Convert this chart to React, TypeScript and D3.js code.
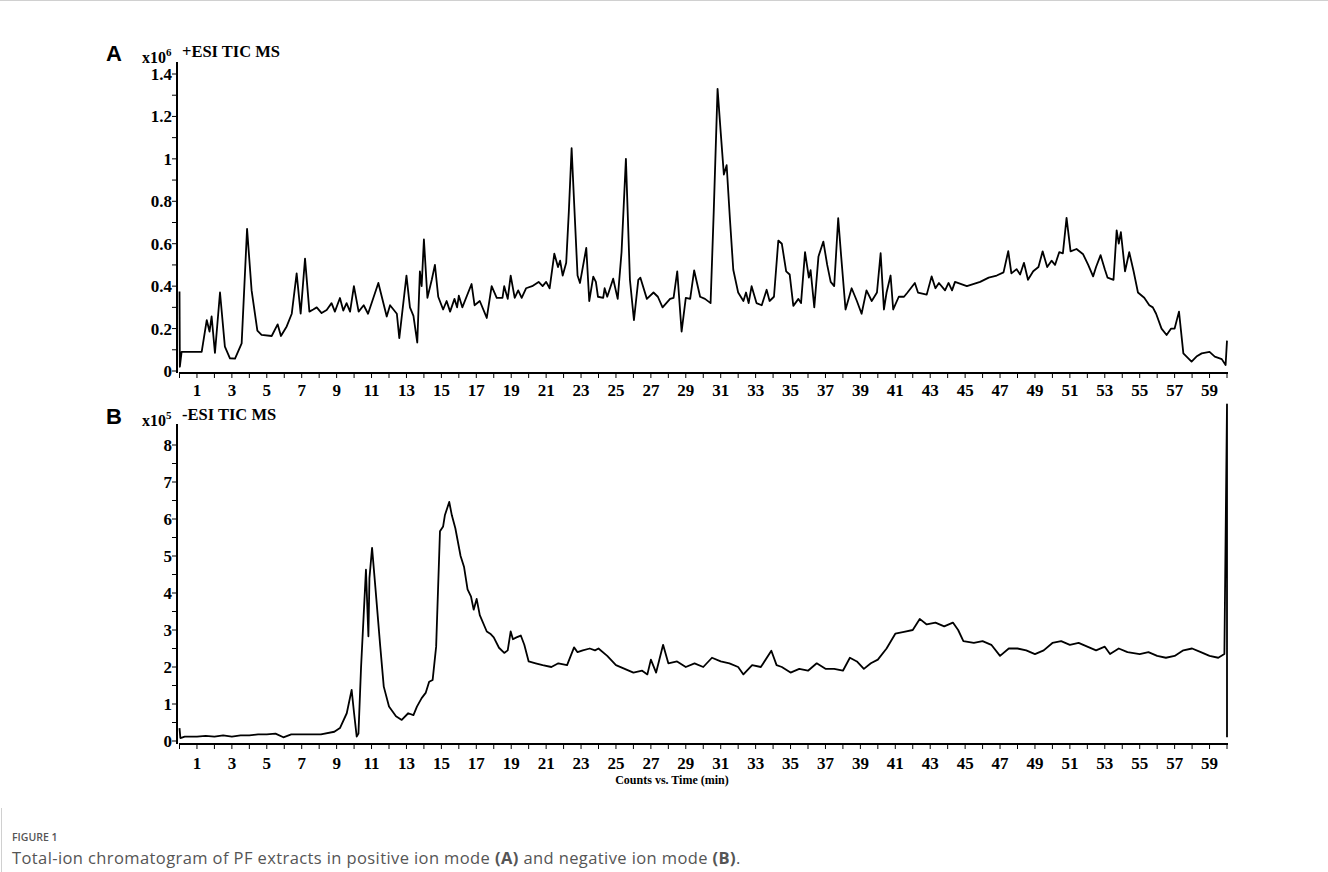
import React from "react";
import * as d3 from "d3";

// Panel A: +ESI TIC MS (x10^6 counts) vs time (min)
const timeA = [0,0.02,0.12,1.27,1.56,1.72,1.84,2.03,2.32,2.6,2.89,3.18,3.56,3.87,4.13,4.46,4.7,5.28,5.62,5.81,6.14,6.43,6.71,6.94,7.19,7.44,7.66,7.86,8.14,8.43,8.71,8.9,9.19,9.38,9.57,9.77,9.99,10.26,10.55,10.8,11.39,11.87,12.06,12.45,12.59,13.0,13.2,13.4,13.62,13.77,13.87,14.0,14.2,14.45,14.63,14.82,15.1,15.3,15.5,15.75,15.9,16.0,16.2,16.73,16.9,17.2,17.6,17.88,18.17,18.5,18.6,18.8,18.97,19.2,19.4,19.6,19.85,20.2,20.57,20.8,21.0,21.2,21.47,21.68,21.8,21.95,22.15,22.3,22.46,22.6,22.8,22.94,23.3,23.47,23.7,23.85,23.97,24.27,24.35,24.5,24.84,25.1,25.32,25.57,25.8,26.03,26.28,26.4,26.77,27.15,27.4,27.67,28.1,28.3,28.51,28.76,29.0,29.25,29.48,29.82,30.1,30.42,30.6,30.82,31.0,31.18,31.34,31.53,31.72,32.0,32.3,32.45,32.6,32.77,33.05,33.35,33.63,33.8,34.05,34.3,34.5,34.75,34.95,35.16,35.45,35.6,35.83,36.05,36.15,36.36,36.6,36.88,37.1,37.3,37.5,37.73,37.9,38.15,38.5,38.8,39.07,39.35,39.65,39.95,40.16,40.35,40.5,40.73,40.88,41.2,41.5,41.7,42.12,42.3,42.8,43.08,43.3,43.5,43.85,44.05,44.25,44.42,45.1,45.86,46.35,46.81,47.2,47.47,47.65,47.95,48.15,48.37,48.6,48.9,49.2,49.44,49.7,49.95,50.15,50.39,50.6,50.81,51.04,51.38,51.76,52.05,52.33,52.5,52.76,53.0,53.16,53.5,53.68,53.8,53.92,54.16,54.4,54.65,54.9,55.26,55.55,55.75,55.94,56.25,56.54,56.8,57.0,57.25,57.5,57.97,58.25,58.55,59.0,59.3,59.7,59.92,60.0];
const valueA = [0.375,0.02,0.09,0.09,0.24,0.186,0.257,0.085,0.37,0.115,0.06,0.058,0.13,0.67,0.38,0.19,0.17,0.165,0.22,0.165,0.21,0.27,0.46,0.27,0.53,0.28,0.29,0.30,0.273,0.288,0.32,0.28,0.344,0.285,0.32,0.28,0.40,0.28,0.31,0.27,0.415,0.257,0.31,0.27,0.155,0.45,0.30,0.26,0.134,0.47,0.40,0.62,0.345,0.43,0.50,0.35,0.29,0.33,0.28,0.34,0.30,0.355,0.30,0.41,0.31,0.33,0.25,0.40,0.345,0.345,0.40,0.34,0.45,0.345,0.38,0.345,0.39,0.40,0.42,0.40,0.42,0.39,0.553,0.49,0.52,0.45,0.51,0.75,1.05,0.80,0.45,0.415,0.58,0.33,0.445,0.42,0.35,0.345,0.39,0.35,0.435,0.34,0.56,1.0,0.43,0.24,0.43,0.44,0.34,0.37,0.35,0.30,0.34,0.345,0.47,0.186,0.345,0.34,0.474,0.35,0.34,0.32,0.75,1.33,1.125,0.926,0.97,0.714,0.477,0.37,0.33,0.37,0.32,0.40,0.32,0.31,0.383,0.33,0.35,0.615,0.60,0.47,0.455,0.307,0.34,0.32,0.56,0.44,0.475,0.30,0.54,0.61,0.50,0.42,0.40,0.72,0.54,0.29,0.39,0.33,0.27,0.38,0.33,0.37,0.555,0.29,0.37,0.45,0.29,0.35,0.35,0.37,0.415,0.37,0.36,0.446,0.39,0.415,0.38,0.415,0.38,0.42,0.40,0.42,0.44,0.45,0.465,0.565,0.46,0.48,0.455,0.51,0.43,0.47,0.49,0.564,0.49,0.52,0.50,0.56,0.555,0.722,0.564,0.575,0.55,0.50,0.446,0.49,0.546,0.48,0.44,0.43,0.663,0.60,0.655,0.47,0.56,0.47,0.37,0.345,0.31,0.30,0.27,0.20,0.17,0.20,0.20,0.28,0.083,0.044,0.068,0.083,0.09,0.068,0.056,0.028,0.143];

// Panel B: -ESI TIC MS (x10^5 counts) vs time (min)
const timeB = [0,0.05,0.3,1.0,1.5,2.0,2.5,3.0,3.5,4.0,4.5,5.0,5.5,5.95,6.4,7.0,8.1,8.87,9.19,9.58,9.86,10.0,10.15,10.25,10.4,10.68,10.82,10.88,11.03,11.22,11.5,11.7,12.0,12.4,12.73,13.1,13.4,13.6,13.87,14.1,14.3,14.5,14.7,14.92,15.1,15.2,15.45,15.6,15.8,16.1,16.3,16.5,16.7,16.85,17.02,17.2,17.6,17.8,18.0,18.3,18.6,18.8,18.97,19.1,19.3,19.55,19.75,20.0,20.4,20.8,21.3,21.7,22.2,22.6,22.8,23.1,23.5,23.8,24.0,24.5,25.0,25.5,26.0,26.5,26.8,27.0,27.3,27.7,28.0,28.5,29.0,29.5,30.0,30.5,31.0,31.5,32.0,32.3,32.8,33.3,33.9,34.2,34.5,35.0,35.5,36.0,36.5,37.0,37.5,38.0,38.4,38.8,39.2,39.6,40.0,40.5,41.0,41.5,42.0,42.4,42.8,43.3,43.8,44.3,44.6,44.9,45.5,46.0,46.5,47.0,47.5,48.0,48.5,49.0,49.5,50.0,50.5,51.0,51.5,52.0,52.5,53.0,53.3,53.8,54.3,55.0,55.5,56.0,56.5,57.0,57.5,58.0,58.5,59.0,59.5,59.85,60.0,60.0];
const valueB = [0.35,0.08,0.12,0.12,0.14,0.12,0.15,0.12,0.15,0.15,0.18,0.18,0.2,0.1,0.18,0.18,0.18,0.25,0.35,0.75,1.38,0.75,0.12,0.2,2.0,4.63,2.83,4.4,5.22,4.15,2.55,1.47,0.93,0.67,0.57,0.75,0.7,0.93,1.16,1.3,1.6,1.65,2.55,5.67,5.8,6.1,6.46,6.1,5.75,5.0,4.7,4.1,3.9,3.55,3.84,3.4,2.96,2.9,2.8,2.52,2.38,2.45,2.96,2.75,2.8,2.85,2.6,2.15,2.1,2.05,2.0,2.1,2.05,2.53,2.4,2.45,2.5,2.45,2.5,2.3,2.05,1.95,1.85,1.9,1.8,2.2,1.85,2.6,2.1,2.15,2.0,2.1,2.0,2.25,2.15,2.1,2.0,1.8,2.05,2.0,2.44,2.05,2.0,1.85,1.95,1.9,2.1,1.95,1.95,1.9,2.25,2.15,1.95,2.1,2.2,2.5,2.9,2.95,3.0,3.3,3.15,3.2,3.1,3.2,3.0,2.7,2.65,2.7,2.6,2.3,2.5,2.5,2.45,2.35,2.45,2.65,2.7,2.6,2.65,2.55,2.45,2.55,2.35,2.5,2.4,2.35,2.4,2.3,2.25,2.3,2.45,2.5,2.4,2.3,2.25,2.35,9.1,0.1];

const xLabels = d3.range(1, 60, 2);
const yLabelsA = [0, 0.2, 0.4, 0.6, 0.8, 1, 1.2, 1.4];
const yLabelsB = [0, 1, 2, 3, 4, 5, 6, 7, 8];

const SERIF = "'Liberation Serif', 'Times New Roman', serif";

function Panel({ times, values, yScale, yLabels, yMinor, axisY, axisTop, letter, expo, title, labelY, topY }: any) {
  const x = d3.scaleLinear().domain([0, 60]).range([179.5, 1227]);
  const line = d3
    .line<number>()
    .x((_, i) => x(times[i]))
    .y((v) => yScale(v));
  const minorX = d3.range(0, 61, 1);
  return (
    <g>
      <line x1={177} x2={177} y1={axisTop} y2={axisY} stroke="#000" strokeWidth={2} />
      {yMinor.map((v: number, i: number) => (
        <line key={"ym" + i} x1={172} x2={177} y1={yScale(v)} y2={yScale(v)} stroke="#000" strokeWidth={1} />
      ))}
      {yLabels.map((v: number) => (
        <text key={"yl" + v} x={172} y={yScale(v)} dy="0.35em" textAnchor="end" fontFamily={SERIF} fontWeight="bold" fontSize={17}>
          {String(v)}
        </text>
      ))}
      <line x1={179} x2={1228} y1={axisY} y2={axisY} stroke="#000" strokeWidth={2} />
      {minorX.map((t: number) => (
        <line key={"xm" + t} x1={x(t)} x2={x(t)} y1={axisY} y2={axisY + 5} stroke="#000" strokeWidth={1} />
      ))}
      {xLabels.map((t: number) => (
        <text key={"xl" + t} x={x(t)} y={labelY} dy="0.35em" textAnchor="middle" fontFamily={SERIF} fontWeight="bold" fontSize={17}>
          {t}
        </text>
      ))}
      <text x={106} y={topY + 4} fontFamily="'Liberation Sans', Arial, sans-serif" fontWeight="bold" fontSize={22}>
        {letter}
      </text>
      <text x={142} y={topY + 6} fontFamily={SERIF} fontWeight="bold" fontSize={16}>
        x10
        <tspan fontSize={11} dy={-7}>{expo}</tspan>
      </text>
      <text x={182} y={topY} fontFamily={SERIF} fontWeight="bold" fontSize={16.5}>
        {title}
      </text>
      <path d={line(values) || ""} fill="none" stroke="#000" strokeWidth={1.8} strokeLinejoin="round" />
    </g>
  );
}

export default function App() {
  const yA = d3.scaleLinear().domain([0, 1.4]).range([371, 74]);
  const yB = d3.scaleLinear().domain([0, 8]).range([741, 445]);
  const minorA = d3.range(0, 15).map((i) => i * 0.1);
  const minorB = d3.range(0, 17).map((i) => i * 0.5);
  return (
    <svg width={1328} height={872} style={{ position: "absolute", left: 0, top: 0, background: "#fff" }}>
      <rect x={0} y={0} width={1328} height={872} fill="#fff" />
      <line x1={0} x2={1328} y1={0.5} y2={0.5} stroke="#d0d0d0" strokeWidth={1} />
      <Panel
        times={timeA}
        values={valueA}
        yScale={yA}
        yLabels={yLabelsA}
        yMinor={minorA}
        axisY={373}
        axisTop={62}
        letter="A"
        expo="6"
        title="+ESI TIC MS"
        labelY={390}
        topY={57}
      />
      <Panel
        times={timeB}
        values={valueB}
        yScale={yB}
        yLabels={yLabelsB}
        yMinor={minorB}
        axisY={744}
        axisTop={424}
        letter="B"
        expo="5"
        title="-ESI TIC MS"
        labelY={763}
        topY={420}
      />
      <text x={672} y={784} textAnchor="middle" fontFamily={SERIF} fontWeight="bold" fontSize={12}>
        Counts vs. Time (min)
      </text>
      <line x1={1.5} x2={1.5} y1={808} y2={872} stroke="#d0d0d0" strokeWidth={1} />
      <text x={12} y={841} fontFamily="'Open Sans', sans-serif" fontWeight={600} fontSize={10.5} fill="#555">
        FIGURE 1
      </text>
      <text x={12} y={864} fontFamily="'Open Sans', sans-serif" fontSize={16.5} letterSpacing={0.4} fill="#555">
        <tspan>Total-ion chromatogram of PF extracts in positive ion mode </tspan>
        <tspan fontWeight="bold">(A)</tspan>
        <tspan> and negative ion mode </tspan>
        <tspan fontWeight="bold">(B)</tspan>
        <tspan>.</tspan>
      </text>
    </svg>
  );
}
